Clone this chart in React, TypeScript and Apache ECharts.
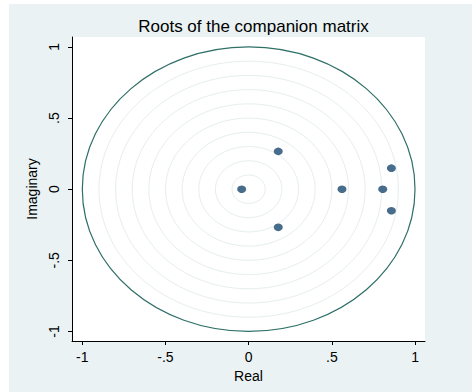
import React, { useEffect, useRef } from 'react';
import * as echarts from 'echarts';

const chartTitle = 'Roots of the companion matrix';
const xName = 'Real';
const yName = 'Imaginary';
const realParts = [-0.042, 0.178, 0.178, 0.561, 0.806, 0.858, 0.858];
const imagParts = [0, 0.266, -0.268, 0, 0, 0.148, -0.151];
const xTicks = [-1, -0.5, 0, 0.5, 1];
const yTicks = [-1, -0.5, 0, 0.5, 1];
const gridRadii = [0.1, 0.2, 0.3, 0.4, 0.5, 0.6, 0.7, 0.8, 0.9];
const unitRadius = [1];

const fmt = (v: number | string) => {
  const n = Number(v);
  if (n === 0) return '0';
  return String(n).replace('0.', '.');
};

const ring = (color: string, width: number) => (params: any, api: any) => {
  const r = api.value(0);
  const c = api.coord([0, 0]);
  const s = api.size([r, r]);
  return {
    type: 'ellipse',
    shape: { cx: c[0], cy: c[1], rx: s[0], ry: s[1] },
    style: { fill: 'none', stroke: color, lineWidth: width },
    silent: true,
  };
};

export default function App() {
  const ref = useRef<HTMLDivElement>(null);
  useEffect(() => {
    if (!ref.current) return;
    const chart = echarts.init(ref.current, undefined, { renderer: 'svg' });
    const font = 'Liberation Sans, Arial, sans-serif';
    chart.setOption({
      animation: false,
      backgroundColor: '#eaf2f3',
      textStyle: { fontFamily: font },
      title: {
        text: chartTitle,
        left: 239.5,
        top: 9,
        textAlign: 'center',
        textStyle: { fontFamily: font, fontSize: 17, fontWeight: 'normal', color: '#000' },
      },
      grid: {
        left: 63,
        top: 33,
        width: 353,
        height: 304,
        show: true,
        backgroundColor: '#ffffff',
        borderWidth: 0,
      },
      xAxis: {
        type: 'value',
        min: -1.062,
        max: 1.06,
        name: xName,
        nameLocation: 'middle',
        nameGap: 21,
        nameTextStyle: { fontFamily: font, fontSize: 14, color: '#000' },
        axisLine: { show: true, onZero: false, lineStyle: { color: '#000', width: 1 } },
        axisTick: { show: true, length: 4, customValues: xTicks, lineStyle: { color: '#000' } },
        axisLabel: { customValues: xTicks, formatter: fmt, fontSize: 14, color: '#000', margin: 9, fontFamily: font },
        splitLine: { show: false },
      },
      yAxis: {
        type: 'value',
        min: -1.067,
        max: 1.07,
        name: yName,
        nameLocation: 'middle',
        nameRotate: 90,
        nameGap: 28,
        nameTextStyle: { fontFamily: font, fontSize: 14, color: '#000' },
        axisLine: { show: true, onZero: false, lineStyle: { color: '#000', width: 1 } },
        axisTick: { show: true, length: 4, customValues: yTicks, lineStyle: { color: '#000' } },
        axisLabel: { customValues: yTicks, formatter: fmt, fontSize: 14, color: '#000', margin: 11, rotate: 90, fontFamily: font },
        splitLine: { show: false },
      },
      series: [
        {
          type: 'custom',
          renderItem: ring('#e6eeee', 1),
          data: gridRadii.map((r) => [r, 0]),
          z: 1,
          silent: true,
        },
        {
          type: 'custom',
          renderItem: ring('#2e6f66', 1.2),
          data: unitRadius.map((r) => [r, 0]),
          z: 2,
          silent: true,
        },
        {
          type: 'scatter',
          data: realParts.map((x, i) => [x, imagParts[i]]),
          symbol: 'circle',
          symbolSize: [9, 7.5],
          itemStyle: { color: '#1a476f' },
          z: 3,
        },
      ],
    });
    return () => chart.dispose();
  }, []);
  return (
    <div style={{ position: 'absolute', left: 9, top: 4, width: 463, height: 388, background: '#eaf2f3' }}>
      <div ref={ref} style={{ width: 463, height: 388 }} />
    </div>
  );
}
